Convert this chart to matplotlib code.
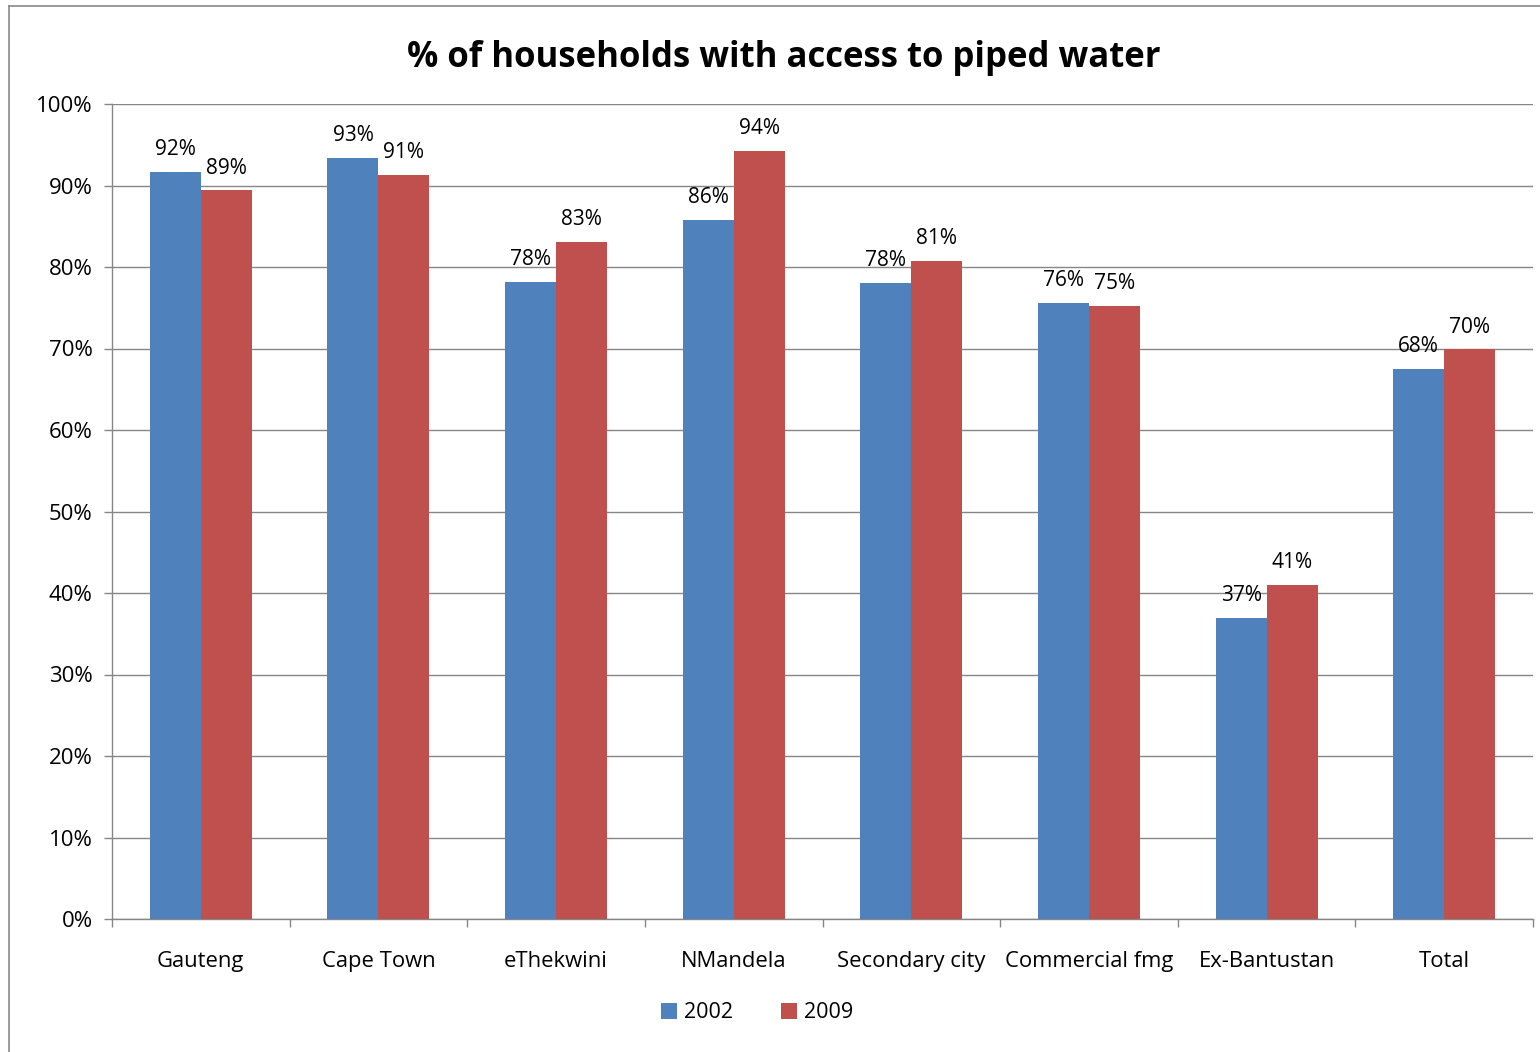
import matplotlib
matplotlib.use("Agg")
import matplotlib.pyplot as plt
from matplotlib.lines import Line2D
from matplotlib.patches import Patch
import numpy as np

categories = ["Gauteng", "Cape Town", "eThekwini", "NMandela", "Secondary city",
              "Commercial fmg", "Ex-Bantustan", "Total"]
v2002 = [91.7, 93.4, 78.2, 85.8, 78.0, 75.6, 36.9, 67.5]
v2009 = [89.4, 91.3, 83.1, 94.2, 80.7, 75.2, 41.0, 69.9]
series_names = ["2002", "2009"]
yticks = [0, 10, 20, 30, 40, 50, 60, 70, 80, 90, 100]

BLUE = "#4F81BD"
RED = "#C0504D"
GRID = "#868686"
plt.rcParams['font.family'] = ['Open Sans', 'DejaVu Sans']

W, H = 1540, 1052
fig = plt.figure(figsize=(W / 100, H / 100), dpi=100)
ax = fig.add_axes([112 / W, 1 - 919 / H, (1533 - 112) / W, (919 - 104) / H])

x = np.arange(len(categories))
bw = 0.287
b1 = ax.bar(x - bw / 2, v2002, bw, color=BLUE, zorder=3)
b2 = ax.bar(x + bw / 2, v2009, bw, color=RED, zorder=3)

for bars, vals in ((b1, v2002), (b2, v2009)):
    for r, v in zip(bars, vals):
        ax.annotate(f"{round(v):d}%", (r.get_x() + r.get_width() / 2, v),
                    xytext=(0, 8.5), textcoords="offset points",
                    ha="center", va="bottom", fontsize=15, color="black", zorder=4)

ax.set_xlim(-0.5, len(categories) - 0.5)
ax.set_ylim(0, 100)
ax.set_yticks(yticks)
ax.set_yticklabels([f"{t}%" for t in yticks], fontsize=16)
ax.yaxis.grid(True, color=GRID, linewidth=1.0, zorder=0)
ax.set_axisbelow(True)

ax.set_xticks(np.arange(len(categories) + 1) - 0.5)
ax.set_xticklabels([])
ax.set_xticks(x, minor=True)
ax.set_xticklabels(categories, minor=True, fontsize=15.8)
ax.tick_params(axis="x", which="major", length=6, color=GRID, width=1)
ax.tick_params(axis="x", which="minor", length=0, pad=23)
ax.tick_params(axis="y", length=6, color=GRID, width=1, pad=8)

for s in ("top", "right"):
    ax.spines[s].set_visible(False)
for s in ("left", "bottom"):
    ax.spines[s].set_color(GRID)
    ax.spines[s].set_linewidth(1.0)

fig.text(784 / W, 1 - 58 / H, "% of households with access to piped water",
         ha="center", va="center", fontsize=25, fontweight="bold")

handles = [Patch(facecolor=BLUE), Patch(facecolor=RED)]
fig.legend(handles, series_names, loc="center", bbox_to_anchor=(757 / W, 1 - 1013 / H),
           ncol=2, frameon=False, fontsize=15.5, handlelength=0.75, handleheight=0.75,
           handletextpad=0.35, columnspacing=2.2)

# outer chart border (partially cropped)
fig.add_artist(Line2D([8.5 / W, 8.5 / W], [0, 1 - 5.5 / H], color="#898989", lw=1.2,
                      transform=fig.transFigure))
fig.add_artist(Line2D([8.5 / W, 1], [1 - 5.5 / H, 1 - 5.5 / H], color="#898989", lw=1.2,
                      transform=fig.transFigure))

fig.savefig("out.png", dpi=100, facecolor="white")
